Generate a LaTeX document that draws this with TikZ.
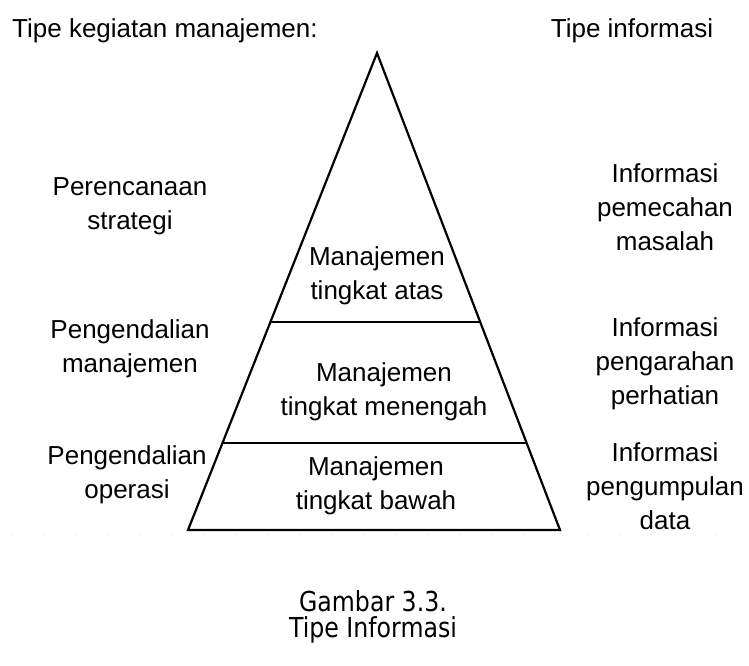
\documentclass[tikz,border=0pt]{standalone}
\usepackage{fontspec}
\setmainfont{Liberation Sans}
\newfontfamily\capfont{DejaVu Sans}[FakeStretch=0.86]
\usetikzlibrary{calc,positioning}

\begin{document}
\begin{tikzpicture}[x=1pt,y=-1pt,
    txt/.style={align=center,inner sep=0pt,font=\fontsize{26}{34}\selectfont},
    captxt/.style={align=center,inner sep=0pt,font=\capfont\fontsize{27.5}{26}\selectfont},
    edge/.style={line width=2.2pt,line join=miter}]

    \useasboundingbox (0,0) rectangle (749,665);

    % the pyramid
    \coordinate (top) at (377,53);
    \coordinate (bl) at (188,530);
    \coordinate (br) at (560,530);
    \draw[edge] (top) -- (bl) -- (br) -- cycle;
    \draw[edge] ($(top)!0.564!(bl)$) -- ($(top)!0.564!(br)$);
    \draw[edge] ($(top)!0.818!(bl)$) -- ($(top)!0.818!(br)$);
    \draw[gray!15,line width=1pt,dash pattern=on 2pt off 30pt] (10,534) -- (745,534);

    % the headings
    \node[txt,anchor=base west] (kegiatan) at (12,37) {Tipe kegiatan manajemen:};
    \node[txt,anchor=base] (info) at (632,37) {Tipe informasi};

    % the levels
    \node[txt] (atas) at (377,276) {Manajemen\\tingkat atas};
    \node[txt] (tengah) at (384,392) {Manajemen\\tingkat menengah};
    \node[txt] (bawah) at (376,486) {Manajemen\\tingkat bawah};

    % the activities
    \node[txt] (strategi) at (130,206) {Perencanaan\\strategi};
    \node[txt] (kendali) at (130,349) {Pengendalian\\manajemen};
    \node[txt] (operasi) at (127,475) {Pengendalian\\operasi};

    % the information
    \node[txt] (masalah) at (665,207) {Informasi\\pemecahan\\masalah};
    \node[txt] (perhatian) at (665,364) {Informasi\\pengarahan\\perhatian};
    \node[txt] (data) at (665,486) {Informasi\\pengumpulan\\data};

    % the caption
    \node[captxt] (gambar) at (373,617) {Gambar 3.3.\\Tipe Informasi};

\end{tikzpicture}
\end{document}
